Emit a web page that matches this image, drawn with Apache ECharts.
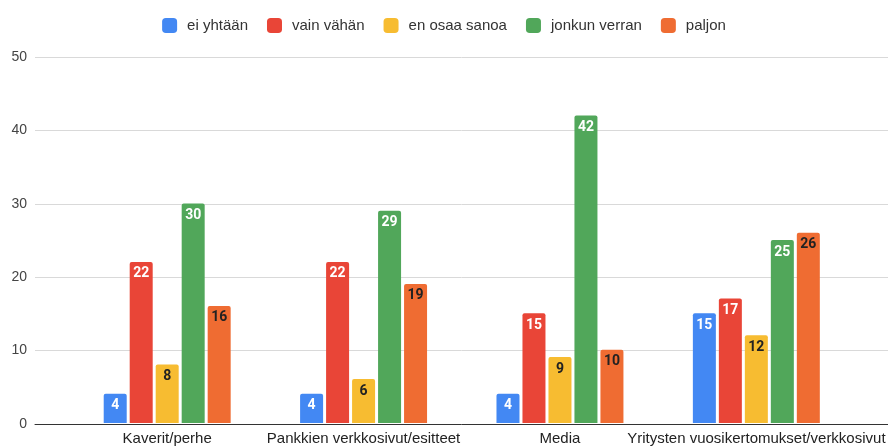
<!DOCTYPE html>
<html>
<head>
<meta charset="utf-8">
<script src="https://cdn.jsdelivr.net/npm/echarts@6/dist/echarts.min.js"></script>
<style>
  html, body { margin: 0; padding: 0; background: #fff; }
  #chart { width: 888px; height: 446px; }
</style>
</head>
<body>
<div id="chart"></div>
<script>
// kategoriat ja sarjat
const categories = ['Kaverit/perhe', 'Pankkien verkkosivut/esitteet', 'Media', 'Yritysten vuosikertomukset/verkkosivut'];
const seriesNames = ['ei yhtään', 'vain vähän', 'en osaa sanoa', 'jonkun verran', 'paljon'];
const eiYhtaan = [4, 4, 4, 15];
const vainVahan = [22, 22, 15, 17];
const enOsaaSanoa = [8, 6, 9, 12];
const jonkunVerran = [30, 29, 42, 25];
const paljon = [16, 19, 10, 26];
const yTicks = [0, 10, 20, 30, 40, 50];

const colors = ['#4388f3', '#e94537', '#f7bc31', '#51a75a', '#ef6c32'];
const labelColors = ['#fff', '#fff', '#222', '#fff', '#222'];
const values = [eiYhtaan, vainVahan, enOsaaSanoa, jonkunVerran, paljon];

const chart = echarts.init(document.getElementById('chart'));
const font = 'Arial, "Liberation Sans", sans-serif';

chart.setOption({
  animation: false,
  textStyle: { fontFamily: font },
  legend: {
    top: 13,
    left: 'center',
    itemWidth: 15,
    itemHeight: 15,
    itemGap: 19,
    icon: 'roundRect',
    textStyle: { fontSize: 15, color: '#333', padding: [0, 0, 0, 5] },
    data: seriesNames,
  },
  grid: [
    // rasteri + y-akseli koko leveydelle
    { left: 35, right: 0, top: 57, bottom: 22 },
    // pylväät
    { left: 69, right: 29, top: 57, bottom: 22 },
  ],
  xAxis: [
    {
      gridIndex: 0,
      type: 'value',
      min: 0,
      max: 1,
      axisLine: { show: true, onZero: false, lineStyle: { color: '#333', width: 1 } },
      axisTick: { show: false },
      axisLabel: { show: false },
      splitLine: { show: false },
    },
    {
      gridIndex: 1,
      type: 'category',
      data: categories,
      axisLine: { show: false },
      axisTick: { show: false },
      axisLabel: { color: '#222', fontSize: 15, margin: 8, interval: 0 },
    },
  ],
  yAxis: [
    {
      gridIndex: 0,
      type: 'value',
      min: yTicks[0],
      max: yTicks[yTicks.length - 1],
      interval: 10,
      axisLine: { show: false },
      axisTick: { show: false },
      axisLabel: { color: '#444', fontSize: 14, margin: 8 },
      splitLine: { lineStyle: { color: '#d9d9d9', width: 1 } },
    },
    {
      gridIndex: 1,
      type: 'value',
      min: yTicks[0],
      max: yTicks[yTicks.length - 1],
      show: false,
      splitLine: { show: false },
    },
  ],
  series: seriesNames.map((name, i) => ({
    name: name,
    type: 'bar',
    xAxisIndex: 1,
    yAxisIndex: 1,
    data: values[i],
    barWidth: 23,
    barGap: '13%',
    itemStyle: { color: colors[i], borderRadius: [2, 2, 0, 0] },
    label: {
      show: true,
      position: 'insideTop',
      distance: 5,
      color: labelColors[i],
      fontSize: 14,
      fontWeight: 'bold',
      fontFamily: 'Roboto, Arial, sans-serif',
    },
  })),
});
</script>
</body>
</html>
